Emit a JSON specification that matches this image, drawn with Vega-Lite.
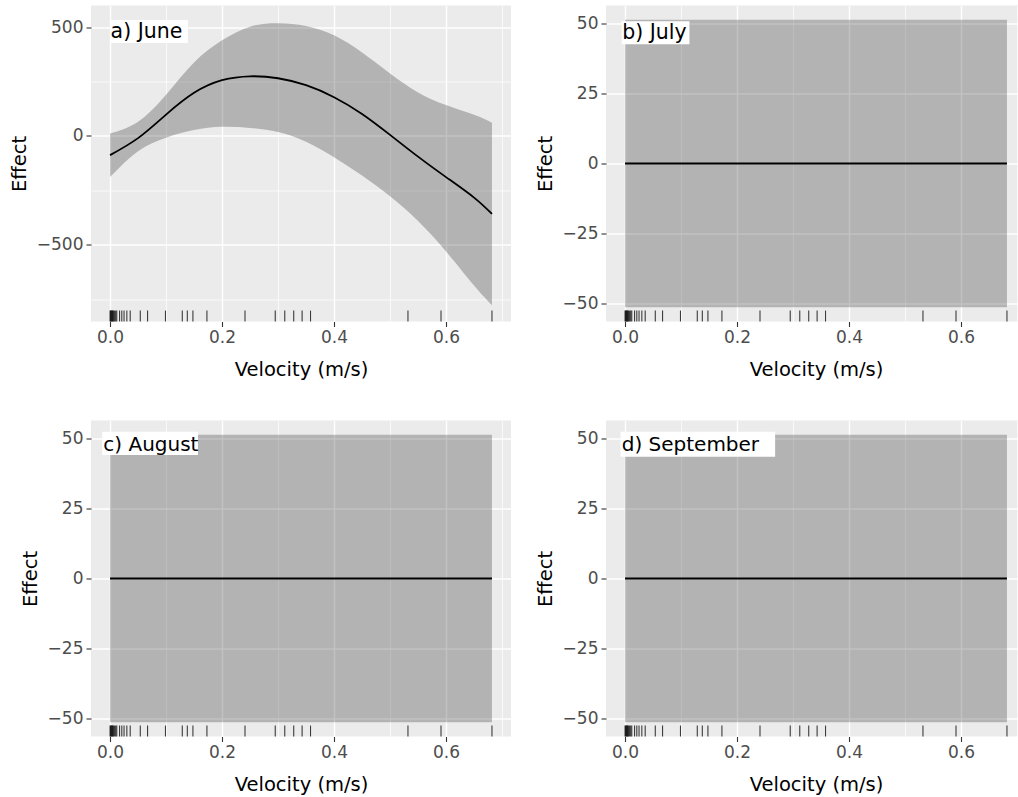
{
  "$schema": "https://vega.github.io/schema/vega-lite/v6.json",
  "padding": {"left": 9, "top": 5.5, "right": 0, "bottom": 0},
  "background": "white",
  "datasets": {
    "fits": [
      {"month": "June", "velocity": 0, "effect": -88, "lower": -189, "upper": 11},
      {"month": "June", "velocity": 0.05, "effect": -10, "lower": -70, "upper": 65},
      {"month": "June", "velocity": 0.1, "effect": 98, "lower": -8, "upper": 189},
      {"month": "June", "velocity": 0.15, "effect": 198, "lower": 27, "upper": 337},
      {"month": "June", "velocity": 0.2, "effect": 256, "lower": 42, "upper": 439},
      {"month": "June", "velocity": 0.25, "effect": 274, "lower": 37, "upper": 502},
      {"month": "June", "velocity": 0.3, "effect": 265, "lower": 18, "upper": 518},
      {"month": "June", "velocity": 0.35, "effect": 233, "lower": -27, "upper": 505},
      {"month": "June", "velocity": 0.4, "effect": 178, "lower": -98, "upper": 462},
      {"month": "June", "velocity": 0.45, "effect": 101, "lower": -182, "upper": 383},
      {"month": "June", "velocity": 0.5, "effect": 5, "lower": -277, "upper": 287},
      {"month": "June", "velocity": 0.55, "effect": -95, "lower": -390, "upper": 200},
      {"month": "June", "velocity": 0.6, "effect": -189, "lower": -530, "upper": 142},
      {"month": "June", "velocity": 0.65, "effect": -283, "lower": -687, "upper": 97},
      {"month": "June", "velocity": 0.682, "effect": -358, "lower": -777, "upper": 61},
      {"month": "July", "velocity": 0, "effect": 0, "lower": -51.3, "upper": 51.3},
      {"month": "July", "velocity": 0.682, "effect": 0, "lower": -51.3, "upper": 51.3},
      {"month": "August", "velocity": 0, "effect": 0, "lower": -51.3, "upper": 51.3},
      {"month": "August", "velocity": 0.682, "effect": 0, "lower": -51.3, "upper": 51.3},
      {"month": "September", "velocity": 0, "effect": 0, "lower": -51.3, "upper": 51.3},
      {"month": "September", "velocity": 0.682, "effect": 0, "lower": -51.3, "upper": 51.3}
    ],
    "rug": [
      {"velocity": 0}, {"velocity": 0.001}, {"velocity": 0.002}, {"velocity": 0.003},
      {"velocity": 0.004}, {"velocity": 0.005}, {"velocity": 0.006}, {"velocity": 0.008},
      {"velocity": 0.010}, {"velocity": 0.012}, {"velocity": 0.017}, {"velocity": 0.021},
      {"velocity": 0.025}, {"velocity": 0.030}, {"velocity": 0.036}, {"velocity": 0.054},
      {"velocity": 0.067}, {"velocity": 0.099}, {"velocity": 0.129}, {"velocity": 0.138},
      {"velocity": 0.148}, {"velocity": 0.173}, {"velocity": 0.241}, {"velocity": 0.295},
      {"velocity": 0.312}, {"velocity": 0.328}, {"velocity": 0.343}, {"velocity": 0.358},
      {"velocity": 0.532}, {"velocity": 0.591}, {"velocity": 0.682}
    ]
  },
  "config": {
    "view": {"fill": "#EBEBEB", "stroke": null},
    "font": "DejaVu Sans",
    "axis": {
      "domain": false,
      "grid": true,
      "gridColor": "#FFFFFF",
      "tickColor": "#333333",
      "tickSize": 5,
      "tickWidth": 1.1,
      "labelColor": "#4D4D4D",
      "labelFont": "DejaVu Sans",
      "labelFontSize": 17,
      "labelPadding": 3,
      "titleFont": "DejaVu Sans",
      "titleFontSize": 19.5,
      "titleFontWeight": "normal",
      "titleColor": "#000000"
    },
    "axisX": {"titlePadding": 15},
    "axisY": {"titlePadding": 7}
  },
  "columns": 2,
  "spacing": {"row": 99, "column": 95},
  "bounds": "flush",
  "concat": [
    {
      "width": 420, "height": 316,
      "layer": [
        {
          "data": {"name": "fits"},
          "transform": [{"filter": "datum.month === 'June'"}],
          "mark": {"type": "area", "color": "#000000", "opacity": 0.24, "interpolate": "natural"},
          "encoding": {
            "x": {"field": "velocity", "type": "quantitative", "title": "Velocity (m/s)",
              "scale": {"domain": [-0.034, 0.716], "nice": false, "zero": false},
              "axis": {"values": [0, 0.1, 0.2, 0.3, 0.4, 0.5, 0.6, 0.7], "format": ".1f",
                "labelExpr": "round(datum.value*10) % 2 == 0 ? datum.label : ''",
                "gridWidth": {"condition": {"test": "round(datum.value*10) % 2 == 0", "value": 1.4}, "value": 0.7},
                "tickOpacity": {"condition": {"test": "round(datum.value*10) % 2 == 0", "value": 1}, "value": 0}}},
            "y": {"field": "lower", "type": "quantitative", "title": "Effect",
              "scale": {"domain": [-852, 599], "nice": false, "zero": false},
              "axis": {"values": [-750, -500, -250, 0, 250, 500], "format": "d",
                "labelExpr": "datum.value % 500 == 0 ? datum.label : ''",
                "gridWidth": {"condition": {"test": "datum.value % 500 == 0", "value": 1.4}, "value": 0.7},
                "tickOpacity": {"condition": {"test": "datum.value % 500 == 0", "value": 1}, "value": 0}}},
            "y2": {"field": "upper"}
          }
        },
        {
          "data": {"name": "fits"},
          "transform": [{"filter": "datum.month === 'June'"}],
          "mark": {"type": "line", "color": "#000000", "strokeWidth": 1.8, "interpolate": "natural"},
          "encoding": {
            "x": {"field": "velocity", "type": "quantitative", "title": "Velocity (m/s)"},
            "y": {"field": "effect", "type": "quantitative", "title": "Effect"}
          }
        },
        {
          "data": {"name": "rug"},
          "mark": {"type": "rule", "color": "#000000", "opacity": 0.75, "strokeWidth": 1.1},
          "encoding": {
            "x": {"field": "velocity", "type": "quantitative", "title": "Velocity (m/s)"},
            "y": {"datum": -852},
            "y2": {"datum": -802}
          }
        },
        {
          "data": {"values": [{"label": "a) June"}]},
          "mark": {"type": "rect", "color": "#FFFFFF"},
          "encoding": {
            "x": {"datum": 0}, "x2": {"datum": 0.139},
            "y": {"datum": 532}, "y2": {"datum": 427}
          }
        },
        {
          "data": {"values": [{"label": "a) June"}]},
          "mark": {"type": "text", "align": "left", "baseline": "alphabetic", "fontSize": 20.5, "color": "#000000", "font": "DejaVu Sans"},
          "encoding": {
            "x": {"datum": 0.001}, "y": {"datum": 448},
            "text": {"field": "label"}
          }
        }
      ]
    },
    {
      "width": 420, "height": 316,
      "layer": [
        {
          "data": {"name": "fits"},
          "transform": [{"filter": "datum.month === 'July'"}],
          "mark": {"type": "area", "color": "#000000", "opacity": 0.24},
          "encoding": {
            "x": {"field": "velocity", "type": "quantitative", "title": "Velocity (m/s)",
              "scale": {"domain": [-0.034, 0.716], "nice": false, "zero": false},
              "axis": {"values": [0, 0.1, 0.2, 0.3, 0.4, 0.5, 0.6, 0.7], "format": ".1f",
                "labelExpr": "round(datum.value*10) % 2 == 0 ? datum.label : ''",
                "gridWidth": {"condition": {"test": "round(datum.value*10) % 2 == 0", "value": 1.4}, "value": 0.7},
                "tickOpacity": {"condition": {"test": "round(datum.value*10) % 2 == 0", "value": 1}, "value": 0}}},
            "y": {"field": "lower", "type": "quantitative", "title": "Effect",
              "scale": {"domain": [-56.4, 56.4], "nice": false, "zero": false},
              "axis": {"values": [-50, -37.5, -25, -12.5, 0, 12.5, 25, 37.5, 50], "format": "d",
                "labelExpr": "datum.value % 25 == 0 ? datum.label : ''",
                "gridWidth": {"condition": {"test": "datum.value % 25 == 0", "value": 1.4}, "value": 0.7},
                "tickOpacity": {"condition": {"test": "datum.value % 25 == 0", "value": 1}, "value": 0}}},
            "y2": {"field": "upper"}
          }
        },
        {
          "data": {"name": "fits"},
          "transform": [{"filter": "datum.month === 'July'"}],
          "mark": {"type": "line", "color": "#000000", "strokeWidth": 1.8},
          "encoding": {
            "x": {"field": "velocity", "type": "quantitative", "title": "Velocity (m/s)"},
            "y": {"field": "effect", "type": "quantitative", "title": "Effect"}
          }
        },
        {
          "data": {"name": "rug"},
          "mark": {"type": "rule", "color": "#000000", "opacity": 0.75, "strokeWidth": 1.1},
          "encoding": {
            "x": {"field": "velocity", "type": "quantitative", "title": "Velocity (m/s)"},
            "y": {"datum": -56.4},
            "y2": {"datum": -52.5}
          }
        },
        {
          "data": {"values": [{"label": "b) July"}]},
          "mark": {"type": "rect", "color": "#FFFFFF"},
          "encoding": {
            "x": {"datum": -0.006}, "x2": {"datum": 0.115},
            "y": {"datum": 50.8}, "y2": {"datum": 42.6}
          }
        },
        {
          "data": {"values": [{"label": "b) July"}]},
          "mark": {"type": "text", "align": "left", "baseline": "alphabetic", "fontSize": 20.5, "color": "#000000", "font": "DejaVu Sans"},
          "encoding": {
            "x": {"datum": -0.005}, "y": {"datum": 44.4},
            "text": {"field": "label"}
          }
        }
      ]
    },
    {
      "width": 420, "height": 316,
      "layer": [
        {
          "data": {"name": "fits"},
          "transform": [{"filter": "datum.month === 'August'"}],
          "mark": {"type": "area", "color": "#000000", "opacity": 0.24},
          "encoding": {
            "x": {"field": "velocity", "type": "quantitative", "title": "Velocity (m/s)",
              "scale": {"domain": [-0.034, 0.716], "nice": false, "zero": false},
              "axis": {"values": [0, 0.1, 0.2, 0.3, 0.4, 0.5, 0.6, 0.7], "format": ".1f",
                "labelExpr": "round(datum.value*10) % 2 == 0 ? datum.label : ''",
                "gridWidth": {"condition": {"test": "round(datum.value*10) % 2 == 0", "value": 1.4}, "value": 0.7},
                "tickOpacity": {"condition": {"test": "round(datum.value*10) % 2 == 0", "value": 1}, "value": 0}}},
            "y": {"field": "lower", "type": "quantitative", "title": "Effect",
              "scale": {"domain": [-56.4, 56.4], "nice": false, "zero": false},
              "axis": {"values": [-50, -37.5, -25, -12.5, 0, 12.5, 25, 37.5, 50], "format": "d",
                "labelExpr": "datum.value % 25 == 0 ? datum.label : ''",
                "gridWidth": {"condition": {"test": "datum.value % 25 == 0", "value": 1.4}, "value": 0.7},
                "tickOpacity": {"condition": {"test": "datum.value % 25 == 0", "value": 1}, "value": 0}}},
            "y2": {"field": "upper"}
          }
        },
        {
          "data": {"name": "fits"},
          "transform": [{"filter": "datum.month === 'August'"}],
          "mark": {"type": "line", "color": "#000000", "strokeWidth": 1.8},
          "encoding": {
            "x": {"field": "velocity", "type": "quantitative", "title": "Velocity (m/s)"},
            "y": {"field": "effect", "type": "quantitative", "title": "Effect"}
          }
        },
        {
          "data": {"name": "rug"},
          "mark": {"type": "rule", "color": "#000000", "opacity": 0.75, "strokeWidth": 1.1},
          "encoding": {
            "x": {"field": "velocity", "type": "quantitative", "title": "Velocity (m/s)"},
            "y": {"datum": -56.4},
            "y2": {"datum": -52.5}
          }
        },
        {
          "data": {"values": [{"label": "c) August"}]},
          "mark": {"type": "rect", "color": "#FFFFFF"},
          "encoding": {
            "x": {"datum": -0.014}, "x2": {"datum": 0.157},
            "y": {"datum": 52.4}, "y2": {"datum": 44.1}
          }
        },
        {
          "data": {"values": [{"label": "c) August"}]},
          "mark": {"type": "text", "align": "left", "baseline": "alphabetic", "fontSize": 20, "color": "#000000", "font": "DejaVu Sans"},
          "encoding": {
            "x": {"datum": -0.012}, "y": {"datum": 45.5},
            "text": {"field": "label"}
          }
        }
      ]
    },
    {
      "width": 420, "height": 316,
      "layer": [
        {
          "data": {"name": "fits"},
          "transform": [{"filter": "datum.month === 'September'"}],
          "mark": {"type": "area", "color": "#000000", "opacity": 0.24},
          "encoding": {
            "x": {"field": "velocity", "type": "quantitative", "title": "Velocity (m/s)",
              "scale": {"domain": [-0.034, 0.716], "nice": false, "zero": false},
              "axis": {"values": [0, 0.1, 0.2, 0.3, 0.4, 0.5, 0.6, 0.7], "format": ".1f",
                "labelExpr": "round(datum.value*10) % 2 == 0 ? datum.label : ''",
                "gridWidth": {"condition": {"test": "round(datum.value*10) % 2 == 0", "value": 1.4}, "value": 0.7},
                "tickOpacity": {"condition": {"test": "round(datum.value*10) % 2 == 0", "value": 1}, "value": 0}}},
            "y": {"field": "lower", "type": "quantitative", "title": "Effect",
              "scale": {"domain": [-56.4, 56.4], "nice": false, "zero": false},
              "axis": {"values": [-50, -37.5, -25, -12.5, 0, 12.5, 25, 37.5, 50], "format": "d",
                "labelExpr": "datum.value % 25 == 0 ? datum.label : ''",
                "gridWidth": {"condition": {"test": "datum.value % 25 == 0", "value": 1.4}, "value": 0.7},
                "tickOpacity": {"condition": {"test": "datum.value % 25 == 0", "value": 1}, "value": 0}}},
            "y2": {"field": "upper"}
          }
        },
        {
          "data": {"name": "fits"},
          "transform": [{"filter": "datum.month === 'September'"}],
          "mark": {"type": "line", "color": "#000000", "strokeWidth": 1.8},
          "encoding": {
            "x": {"field": "velocity", "type": "quantitative", "title": "Velocity (m/s)"},
            "y": {"field": "effect", "type": "quantitative", "title": "Effect"}
          }
        },
        {
          "data": {"name": "rug"},
          "mark": {"type": "rule", "color": "#000000", "opacity": 0.75, "strokeWidth": 1.1},
          "encoding": {
            "x": {"field": "velocity", "type": "quantitative", "title": "Velocity (m/s)"},
            "y": {"datum": -56.4},
            "y2": {"datum": -52.5}
          }
        },
        {
          "data": {"values": [{"label": "d) September"}]},
          "mark": {"type": "rect", "color": "#FFFFFF"},
          "encoding": {
            "x": {"datum": -0.008}, "x2": {"datum": 0.268},
            "y": {"datum": 52.4}, "y2": {"datum": 43.5}
          }
        },
        {
          "data": {"values": [{"label": "d) September"}]},
          "mark": {"type": "text", "align": "left", "baseline": "alphabetic", "fontSize": 20, "color": "#000000", "font": "DejaVu Sans"},
          "encoding": {
            "x": {"datum": -0.006}, "y": {"datum": 45.5},
            "text": {"field": "label"}
          }
        }
      ]
    }
  ]
}
